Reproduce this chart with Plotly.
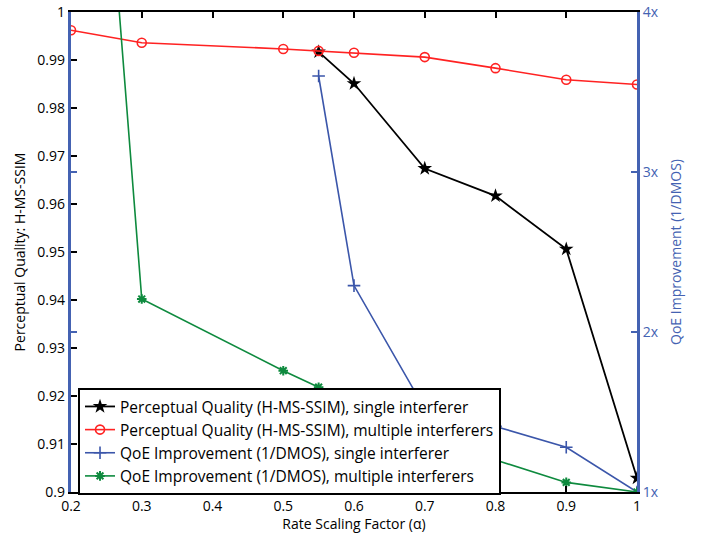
import plotly.graph_objects as go

# Data
x_single = [0.55, 0.6, 0.7, 0.8, 0.9, 1.0]
pq_single = [0.9917, 0.9851, 0.9674, 0.9617, 0.9506, 0.9029]
qoe_single = [3.60, 2.29, 1.52, 1.41, 1.28, 1.00]

x_multi = [0.2, 0.3, 0.5, 0.55, 0.6, 0.7, 0.8, 0.9, 1.0]
pq_multi = [0.9962, 0.9936, 0.9923, 0.9919, 0.9915, 0.9906, 0.9883, 0.9859, 0.9849]
qoe_multi = [7.86, 2.206, 1.758, 1.655, 1.58, 1.37, 1.20, 1.06, 1.00]

x_ticks = [0.2, 0.3, 0.4, 0.5, 0.6, 0.7, 0.8, 0.9, 1.0]
x_ticktext = ["0.2", "0.3", "0.4", "0.5", "0.6", "0.7", "0.8", "0.9", "1"]
y_ticks = [0.9, 0.91, 0.92, 0.93, 0.94, 0.95, 0.96, 0.97, 0.98, 0.99, 1.0]
y_ticktext = ["0.9", "0.91", "0.92", "0.93", "0.94", "0.95", "0.96", "0.97", "0.98", "0.99", "1"]
y2_ticks = [1, 2, 3, 4]
y2_ticktext = ["1x", "2x", "3x", "4x"]

BLUE_AX = "#4462B2"
BLUE = "#3B56AA"
GREEN = "#0E8A3E"
RED = "#FF2222"
FONT = "Open Sans"

fig = go.Figure()
fig.add_trace(go.Scatter(
    x=x_single, y=pq_single, mode="lines+markers",
    name="Perceptual Quality (H-MS-SSIM), single interferer",
    line=dict(color="black", width=1.8),
    marker=dict(symbol="star", size=11, color="black"),
    yaxis="y"))
fig.add_trace(go.Scatter(
    x=x_multi, y=pq_multi, mode="lines+markers",
    name="Perceptual Quality (H-MS-SSIM), multiple interferers",
    line=dict(color=RED, width=1.6),
    marker=dict(symbol="circle-open", size=9, color=RED, line=dict(width=1.6, color=RED)),
    yaxis="y"))
fig.add_trace(go.Scatter(
    x=x_single, y=qoe_single, mode="lines+markers",
    name="QoE Improvement (1/DMOS), single interferer",
    line=dict(color=BLUE, width=1.6),
    marker=dict(symbol="cross-thin", size=9, color=BLUE, line=dict(width=1.6, color=BLUE)),
    yaxis="y2"))
fig.add_trace(go.Scatter(
    x=x_multi, y=qoe_multi, mode="lines+markers",
    name="QoE Improvement (1/DMOS), multiple interferers",
    line=dict(color=GREEN, width=1.6),
    marker=dict(symbol="asterisk", size=8, color=GREEN, line=dict(width=2, color=GREEN)),
    yaxis="y2"))

fig.update_layout(
    width=701, height=533,
    margin=dict(l=71, r=64, t=12, b=41, autoexpand=False),
    paper_bgcolor="white", plot_bgcolor="white",
    font=dict(family=FONT, size=14, color="black"),
    showlegend=True,
    legend=dict(
        x=0.0124, y=-0.006, xanchor="left", yanchor="bottom",
        bgcolor="white", bordercolor="black", borderwidth=2,
        font=dict(family=FONT, size=15.5, color="black"),
        tracegroupgap=0, itemwidth=30,
    ),
    xaxis=dict(
        range=[0.2, 1.0], tickvals=x_ticks, ticktext=x_ticktext,
        showline=True, linecolor="black", linewidth=2, mirror="ticks",
        ticks="inside", ticklen=6, tickwidth=1.5, tickcolor="black",
        showgrid=False, zeroline=False, automargin=False,
        tickfont=dict(size=14, family=FONT),
        title=dict(text="Rate Scaling Factor (α)", font=dict(size=14, family=FONT), standoff=4),
    ),
    yaxis=dict(
        range=[0.9, 1.0], tickvals=y_ticks, ticktext=y_ticktext,
        showline=False, ticks="inside", ticklen=6, tickwidth=1.5, tickcolor="black",
        showgrid=False, zeroline=False, automargin=False, ticklabelstandoff=5,
        tickfont=dict(size=14, family=FONT),
        title=dict(text="Perceptual Quality: H-MS-SSIM", font=dict(size=14, family=FONT), standoff=8),
    ),
    yaxis2=dict(
        range=[1, 4], tickvals=y2_ticks, ticktext=y2_ticktext,
        overlaying="y", side="right", anchor="x",
        showline=True, linecolor=BLUE_AX, linewidth=3, mirror="ticks",
        ticks="inside", ticklen=6, tickwidth=1.5, tickcolor=BLUE_AX,
        showgrid=False, zeroline=False, automargin=False,
        tickfont=dict(size=14, family=FONT, color=BLUE_AX),
        title=dict(text="QoE Improvement (1/DMOS)", font=dict(size=14, family=FONT, color=BLUE_AX), standoff=14),
    ),
)

fig.write_html("out.html", config={"displayModeBar": False},
               post_script="document.body.style.margin='0';")
